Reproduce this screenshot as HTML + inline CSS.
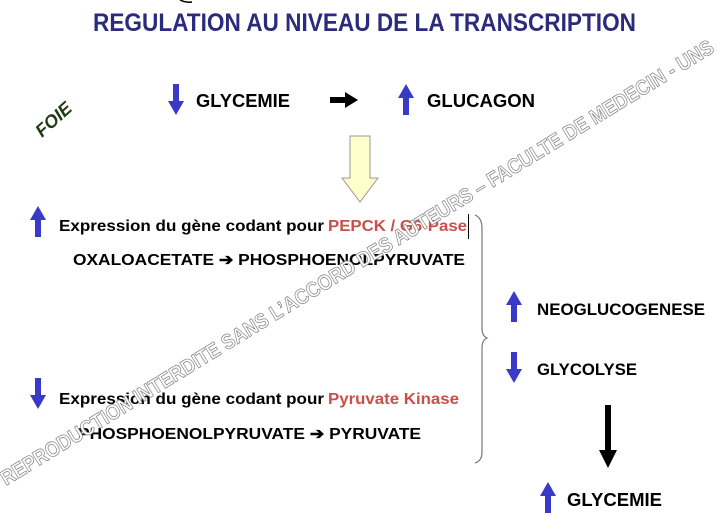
<!DOCTYPE html>
<html><head><meta charset="utf-8"><style>
html,body{margin:0;padding:0;background:#fff;width:718px;height:525px;overflow:hidden}
text{font-family:"Liberation Sans",Arial,sans-serif;font-weight:bold}
</style></head><body>
<svg width="718" height="525" viewBox="0 0 718 525" xmlns="http://www.w3.org/2000/svg">
<defs>
<g id="up"><polygon points="0,-16 8,-2 3,-2 3,15 -3,15 -3,-2 -8,-2" fill="#3a3ac8"/></g>
<g id="dn"><polygon points="0,16 8,2 3,2 3,-15 -3,-15 -3,2 -8,2" fill="#3a3ac8"/></g>
</defs>
<path d="M180,0 Q186,3 192,2" stroke="#000" fill="none" stroke-width="1.5"/>
<text x="93" y="31" font-size="25" fill="#2b2b7d" textLength="543" lengthAdjust="spacingAndGlyphs">REGULATION AU NIVEAU DE LA TRANSCRIPTION</text>

<use href="#dn" x="176" y="99"/>
<text x="196" y="107" font-size="18" textLength="94" lengthAdjust="spacingAndGlyphs">GLYCEMIE</text>
<polygon points="330,97 345,97 345,92 358,100 345,108 345,103 330,103" fill="#000"/>
<use href="#up" x="406" y="100"/>
<text x="427" y="107" font-size="18" textLength="108" lengthAdjust="spacingAndGlyphs">GLUCAGON</text>

<text transform="translate(42,138) rotate(-42)" font-size="18" font-style="italic" fill="#1e3a12">FOIE</text>

<polygon points="350,136 370,136 370,178 378,178 360,202 342,178 350,178" fill="#ffffcc" stroke="#999" stroke-width="1"/>

<use href="#up" x="38" y="222"/>
<text x="59" y="231" font-size="16" textLength="265" lengthAdjust="spacingAndGlyphs">Expression du gène codant pour</text>
<text x="328" y="231" font-size="16" fill="#c9504a" textLength="139" lengthAdjust="spacingAndGlyphs">PEPCK / G6-Pase</text>
<line x1="468.5" y1="214" x2="468.5" y2="239" stroke="#000" stroke-width="1"/>
<text x="73" y="265" font-size="16" textLength="392" lengthAdjust="spacingAndGlyphs">OXALOACETATE ➔ PHOSPHOENOLPYRUVATE</text>

<path d="M475,215 Q482,218 482,228 L482,328 Q482,336 487,338 Q482,340 482,348 L482,452 Q482,461 475,463" stroke="#777" fill="none" stroke-width="1.2"/>

<use href="#up" x="514" y="307"/>
<text x="537" y="315" font-size="17" textLength="168" lengthAdjust="spacingAndGlyphs">NEOGLUCOGENESE</text>
<use href="#dn" x="514" y="367"/>
<text x="537" y="375" font-size="17" textLength="100" lengthAdjust="spacingAndGlyphs">GLYCOLYSE</text>

<use href="#dn" x="38" y="393"/>
<text x="59" y="404" font-size="16" textLength="265" lengthAdjust="spacingAndGlyphs">Expression du gène codant pour</text>
<text x="328" y="404" font-size="16" fill="#c9504a" textLength="131" lengthAdjust="spacingAndGlyphs">Pyruvate Kinase</text>
<text x="78" y="439" font-size="16" textLength="343" lengthAdjust="spacingAndGlyphs">PHOSPHOENOLPYRUVATE ➔ PYRUVATE</text>

<polygon points="605,405 611,405 611,450 617,450 608,468 599,450 605,450" fill="#000"/>
<use href="#up" x="548" y="498"/>
<text x="567" y="506" font-size="18" textLength="95" lengthAdjust="spacingAndGlyphs">GLYCEMIE</text>

<text transform="translate(6,486) rotate(-31.5)" font-size="21" fill="#fff" stroke="#8a8a8a" stroke-width="0.8" textLength="832" lengthAdjust="spacingAndGlyphs">REPRODUCTION INTERDITE SANS L’ACCORD DES AUTEURS – FACULTE DE MEDECIN - UNS</text>
</svg>
</body></html>
